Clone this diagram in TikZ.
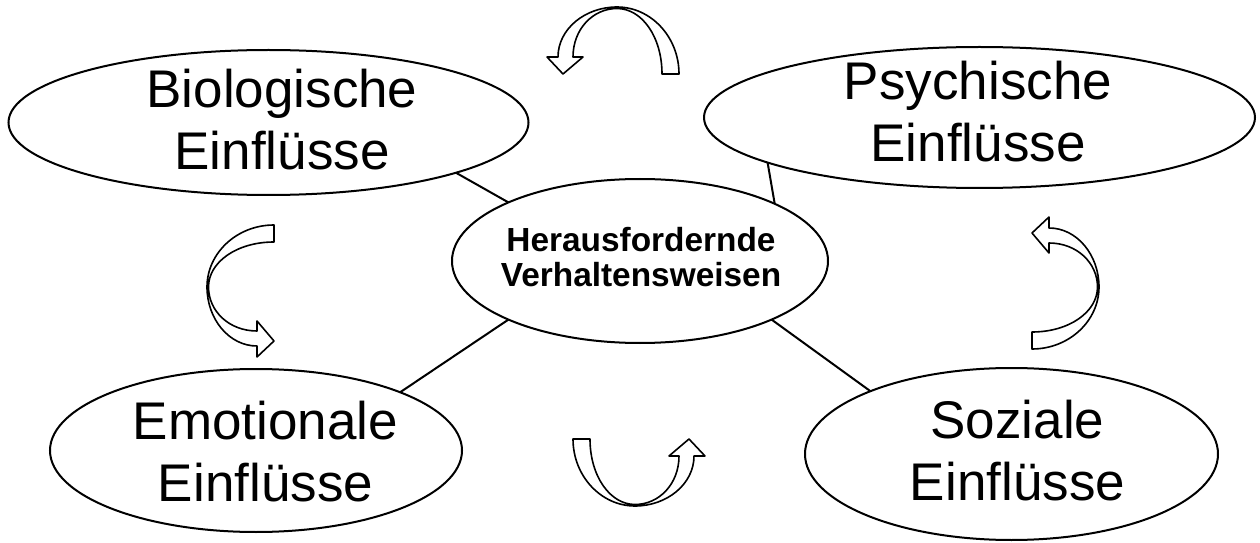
\documentclass[tikz,border=0pt]{standalone}
\usepackage{fontspec}
\setmainfont{Liberation Sans}
\usetikzlibrary{shapes.geometric}

% bent block arrow, drawn with its bend on top and its head on the left
\tikzset{
  pics/turnarrow/.style={code={
    \draw[line width=0.8pt, line join=round]
      (62,-67) .. controls (62,-30) and (34,0) .. (0,0)
      .. controls (-32,0) and (-59,-22) .. (-59,-50)
      -- (-70,-50) -- (-54,-67) -- (-34,-50) -- (-44,-50)
      .. controls (-44,-22) and (-24,-1.5) .. (0,-1.5)
      .. controls (25,-1.5) and (45,-30) .. (45,-67) -- cycle;
  }}
}

\begin{document}
\begin{tikzpicture}[x=0.5pt, y=0.5pt,
    blob/.style={draw, ellipse, line width=1pt, inner sep=0pt, outer sep=0pt},
    big/.style={align=center, font=\fontsize{26.5}{31}\selectfont},
    core/.style={align=center, font=\fontsize{16.7}{17.5}\selectfont\bfseries},
    link/.style={line width=1pt}]
    \useasboundingbox (0,0) rectangle (1260,542);

    % centre
    \node[blob, minimum width=188pt, minimum height=82pt] (cent) at (640,281) {};
    \node[core] (cent-t) at (641,284.5) {Herausfordernde\\Verhaltensweisen};

    % biological (top left)
    \node[blob, minimum width=260pt, minimum height=72.5pt] (bio) at (268.5,419.5) {};
    \node[big] (bio-t) at (282,422.5) {Biologische\\Einflüsse};

    % psychic (top right)
    \node[blob, minimum width=275.5pt, minimum height=70.5pt] (psy) at (979.5,424.5) {};
    \node[big] (psy-t) at (978,430.5) {Psychische\\Einflüsse};

    % emotional (bottom left)
    \node[blob, minimum width=206pt, minimum height=81.5pt] (emo) at (256,91.5) {};
    \node[big] (emo-t) at (265.5,90) {Emotionale\\Einflüsse};

    % social (bottom right)
    \node[blob, minimum width=206.5pt, minimum height=86pt] (soz) at (1011.5,88) {};
    \node[big] (soz-t) at (1017.5,91.5) {Soziale\\Einflüsse};

    % links
    \draw[link] (cent.156.2) -- (bio.345.5);
    \draw[link] (cent.23.9) -- (psy.192.9);
    \draw[link] (cent.204.1) -- (emo.22.2);
    \draw[link] (cent.336.2) -- (soz.156.5);

    % turning arrows
    \pic at (617,535) {turnarrow};
    \pic[rotate=90] at (207,255) {turnarrow};
    \pic[rotate=-90] at (1099,255) {turnarrow};
    \pic[rotate=180] at (635,36) {turnarrow};

\end{tikzpicture}
\end{document}
